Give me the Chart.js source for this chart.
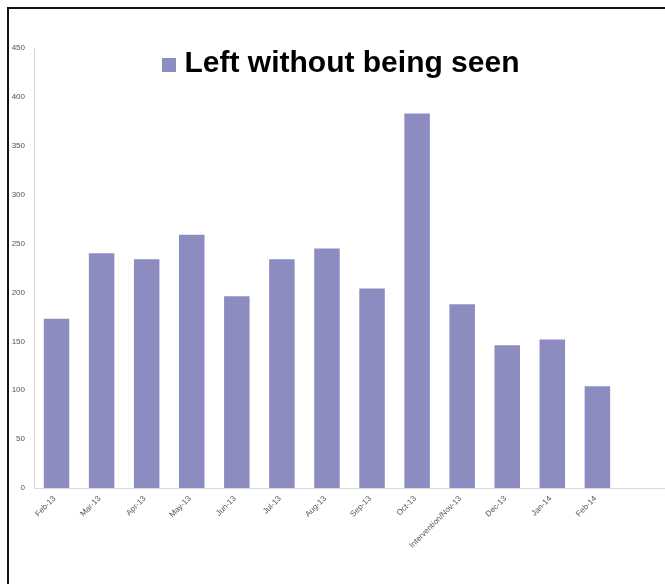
<!DOCTYPE html>
<html>
<head>
<meta charset="utf-8">
<script src="https://cdn.jsdelivr.net/npm/chart.js@4.4.1/dist/chart.umd.min.js"></script>
<style>
  html, body { margin: 0; padding: 0; background: #fff; }
  #wrap { position: relative; width: 665px; height: 584px; overflow: hidden; }
  #frame { position: absolute; left: 7px; top: 7px; width: 700px; height: 600px;
           border-left: 2px solid #111; border-top: 2px solid #111; pointer-events: none; }
  canvas { position: absolute; left: 0; top: 0; }
</style>
</head>
<body>
<div id="wrap">
  <canvas id="c" width="665" height="584"></canvas>
  <div id="frame"></div>
</div>
<script>
// Monthly count of patients who left without being seen
const months = ['Feb-13', 'Mar-13', 'Apr-13', 'May-13', 'Jun-13', 'Jul-13', 'Aug-13',
                'Sep-13', 'Oct-13', 'Intervention/Nov-13', 'Dec-13', 'Jan-14', 'Feb-14', ''];
const leftWithoutBeingSeen = [173, 240, 234, 259, 196, 234, 245, 204, 383, 188, 146, 152, 104];
const seriesName = 'Left without being seen';
const yMax = 450;
const yStep = 50;

const barColor = '#8c8cc0';
const axisColor = '#d9d9d9';
const tickColor = '#555';
const fontFamily = 'Liberation Sans, Arial, sans-serif';

// Square legend marker, drawn as a small canvas so it can sit close to the label
// (the square sits slightly below the text's middle)
const marker = document.createElement('canvas');
marker.width = 14;
marker.height = 17;
(function () {
  const g = marker.getContext('2d');
  g.fillStyle = barColor;
  g.fillRect(0, 3, 14, 14);
})();

// The legend keeps only a thin slot in the layout so the plot can start high;
// after layout its box is enlarged (and nudged right) so the big label can
// hang over the top of the plot area without being clipped.
const legendOverlay = {
  id: 'legendOverlay',
  afterLayout(chart) {
    const lg = chart.legend;
    if (!lg) return;
    lg.left += 22;
    lg.bottom = lg.top + 60;
    lg.height = 60;
  }
};

new Chart(document.getElementById('c'), {
  type: 'bar',
  data: {
    labels: months,
    datasets: [{
      label: seriesName,
      data: leftWithoutBeingSeen,
      backgroundColor: barColor,
      borderWidth: 0,
      categoryPercentage: 1,
      barPercentage: 0.566
    }]
  },
  options: {
    responsive: false,
    animation: false,
    layout: { padding: { left: 0, right: 0, top: 39, bottom: 0 } },
    plugins: {
      tooltip: { enabled: false },
      legend: {
        position: 'top',
        align: 'center',
        maxHeight: 9,
        labels: {
          usePointStyle: true,
          pointStyle: marker,
          pointStyleWidth: 2,
          boxHeight: 14,
          padding: 9.5,
          color: '#000',
          font: { family: fontFamily, size: 30, weight: 'bold' }
        }
      }
    },
    scales: {
      x: {
        grid: { display: false },
        border: { display: true, color: axisColor, width: 1 },
        ticks: {
          color: tickColor,
          minRotation: 45,
          maxRotation: 45,
          autoSkip: false,
          padding: -2,
          labelOffset: -2,
          font: { family: fontFamily, size: 8 }
        },
        afterFit(scale) { scale.height = 96; }
      },
      y: {
        min: 0,
        max: yMax,
        grid: { display: false, drawTicks: false },
        border: { display: true, color: axisColor, width: 1 },
        ticks: {
          stepSize: yStep,
          color: tickColor,
          padding: 9,
          font: { family: fontFamily, size: 8 }
        },
        afterFit(scale) { scale.width = 34; }
      }
    }
  },
  plugins: [legendOverlay]
});
</script>
</body>
</html>
